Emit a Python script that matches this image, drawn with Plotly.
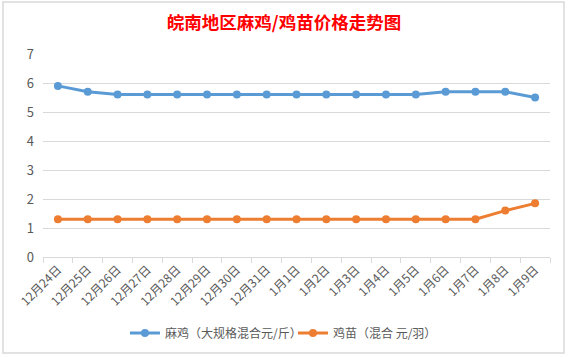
import plotly.graph_objects as go

categories = ["12月24日", "12月25日", "12月26日", "12月27日", "12月28日", "12月29日",
              "12月30日", "12月31日", "1月1日", "1月2日", "1月3日", "1月4日",
              "1月5日", "1月6日", "1月7日", "1月8日", "1月9日"]
maji = [5.9, 5.7, 5.6, 5.6, 5.6, 5.6, 5.6, 5.6, 5.6, 5.6, 5.6, 5.6, 5.6, 5.7, 5.7, 5.7, 5.5]
jimiao = [1.3, 1.3, 1.3, 1.3, 1.3, 1.3, 1.3, 1.3, 1.3, 1.3, 1.3, 1.3, 1.3, 1.3, 1.3, 1.6, 1.85]
series_names = ["麻鸡（大规格混合元/斤）", "鸡苗（混合 元/羽）"]
y_ticks = [0, 1, 2, 3, 4, 5, 6, 7]

font = "Noto Sans CJK SC, Microsoft YaHei, sans-serif"

fig = go.Figure()
fig.add_trace(go.Scatter(x=categories, y=maji, name=series_names[0], mode="lines+markers",
                         line=dict(color="#5b9bd5", width=3), marker=dict(size=8, color="#5b9bd5")))
fig.add_trace(go.Scatter(x=categories, y=jimiao, name=series_names[1], mode="lines+markers",
                         line=dict(color="#ed7d31", width=3), marker=dict(size=8, color="#ed7d31")))

fig.update_layout(
    width=568, height=357,
    margin=dict(l=43, r=18, t=54, b=100, autoexpand=False),
    paper_bgcolor="white", plot_bgcolor="white",
    font=dict(family=font, color="#595959", size=12),
    title=dict(text="<b>皖南地区麻鸡/鸡苗价格走势图</b>", x=0.5, xanchor="center", y=0.935, yanchor="middle",
               font=dict(family=font, size=17.5, color="#ff0000")),
    showlegend=True,
    legend=dict(orientation="h", xref="container", yref="container", x=0.22, xanchor="left",
                y=0.067, yanchor="middle",
                font=dict(size=12, color="#595959"), itemwidth=30, tracegroupgap=0,
                entrywidth=123, entrywidthmode="pixels"),
    xaxis=dict(type="category", range=[-0.5, len(categories) - 0.5], tickangle=-45,
               showline=True, linecolor="#d9d9d9", linewidth=1, ticks="outside", tickcolor="#d9d9d9",
               ticklen=5, tickson="boundaries", showgrid=False, tickfont=dict(size=12),
               automargin=False),
    yaxis=dict(range=[0, 7], tickvals=y_ticks, showgrid=True, gridcolor="#d9d9d9", gridwidth=1,
               zeroline=False, showline=False, tickfont=dict(size=13), ticks="",
               ticklabelstandoff=8, automargin=False),
    shapes=[dict(type="rect", xref="paper", yref="paper", x0=-0.0789, x1=1.0276, y0=-0.473, y1=1.256,
                 line=dict(color="#d9d9d9", width=1.5))],
)
fig.write_html("out.html", config={"displayModeBar": False},
               post_script="document.body.style.margin='0';")
